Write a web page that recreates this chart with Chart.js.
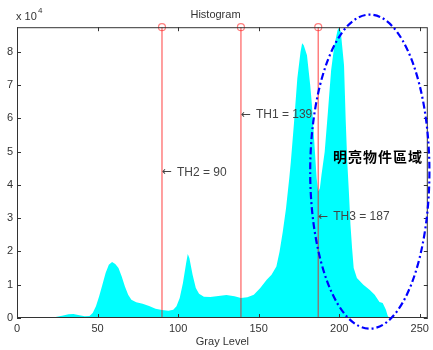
<!DOCTYPE html>
<html>
<head>
<meta charset="utf-8">
<title>Histogram</title>
<script src="https://cdn.jsdelivr.net/npm/chart.js@4.4.1/dist/chart.umd.min.js"></script>
<style>
  html, body { margin: 0; padding: 0; background: #fff; }
  #wrap { width: 433px; height: 350px; }
</style>
</head>
<body>
<div id="wrap"><canvas id="histChart"></canvas></div>
<script>
// gray level (x) and pixel count (y)
const grayLevels = [0, 18, 20, 24, 28, 32, 35, 38, 42, 45, 47, 49, 51, 53, 55, 57, 59, 61, 63, 65, 67, 69, 71, 74, 78, 82, 86, 90, 94, 97, 99,
  101, 103, 105, 106, 107, 109, 111, 113, 116, 120, 125, 130, 135, 139, 143, 147, 151, 155, 158, 161, 163, 165, 167, 169, 170,
  172, 174, 176, 177, 178, 180, 182, 183, 185, 186, 187, 188, 189, 191, 193, 195, 197, 199, 200, 201, 203, 204, 205, 206, 207,
  208, 209, 211, 215, 219, 222, 225, 227, 229, 230, 231, 255];
const pixelCounts = [0, 0, 100, 300, 700, 1100, 1200, 900, 500, 600, 1500, 3500, 6500, 10000, 13500, 16000, 16800, 16200, 15000, 12500, 9500, 7000, 5500, 4700, 4300, 3600, 2800, 2400, 2200, 2500, 3500,
  6000, 10500, 16500, 19200, 18000, 13000, 9000, 7300, 6400, 6300, 6600, 6900, 6500, 6000, 6200, 7000, 9000, 11500, 13000, 15500, 20000, 26000, 33000, 42000, 47000,
  59000, 72000, 80000, 82600, 82000, 79000, 70000, 64500, 49500, 42000, 38000, 39000, 43000, 50000, 62000, 74500, 82000, 86500, 87400, 86000, 76000, 60000, 47000, 38000, 28000,
  21000, 15000, 12000, 10000, 8400, 7000, 4800, 4500, 2500, 800, 0, 0];

// thresholds
const thValues = [90, 139, 187];
const thLabels = ['TH2 = 90', 'TH1 = 139', 'TH3 = 187'];
const thLabelY = [43800, 61000, 30400];

const xTickValues = [0, 50, 100, 150, 200, 250];
const yTickValues = [0, 10000, 20000, 30000, 40000, 50000, 60000, 70000, 80000];
const yMax = 87400;

// ellipse around the bright region (data units)
const ellipseCenter = [219, 44000];
const ellipseRadius = [37, 47200];
const regionLabel = '明亮物件區域';

Chart.defaults.font.family = "'Liberation Sans', Arial, sans-serif";
Chart.defaults.font.size = 11;
Chart.defaults.color = '#333';

const histData = grayLevels.map((g, i) => ({ x: g, y: pixelCounts[i] }));
const stemSets = thValues.map(t => ({
  type: 'line',
  data: [{ x: t, y: 0 }, { x: t, y: yMax }],
  borderColor: 'rgba(255,0,0,0.5)',
  borderWidth: 1.5,
  pointRadius: [0, 3.5],
  pointBorderColor: 'rgba(255,40,40,0.6)',
  pointBorderWidth: 1.2,
  pointBackgroundColor: 'rgba(0,0,0,0)',
  fill: false,
  clip: false,
  order: 1,
}));

// box, inward ticks, labels and the ellipse
const overlay = {
  id: 'overlay',
  afterDatasetsDraw(chart) {
    const { ctx, chartArea: a, scales: { x, y } } = chart;
    ctx.save();
    ctx.strokeStyle = '#333';
    ctx.lineWidth = 1;
    ctx.strokeRect(a.left + 0.5, a.top + 0.5, a.right - a.left - 1, a.bottom - a.top - 1);
    ctx.beginPath();
    xTickValues.forEach(v => {
      const px = Math.round(x.getPixelForValue(v)) + 0.5;
      ctx.moveTo(px, a.bottom); ctx.lineTo(px, a.bottom - 4);
      ctx.moveTo(px, a.top); ctx.lineTo(px, a.top + 4);
    });
    yTickValues.forEach(v => {
      const py = Math.round(y.getPixelForValue(v)) + 0.5;
      ctx.moveTo(a.left, py); ctx.lineTo(a.left + 4, py);
      ctx.moveTo(a.right, py); ctx.lineTo(a.right - 4, py);
    });
    ctx.stroke();
    ctx.restore();
  },
  afterDraw(chart) {
    const { ctx, scales: { x, y } } = chart;
    ctx.save();
    // x 10^4
    ctx.fillStyle = '#333';
    ctx.textBaseline = 'alphabetic';
    ctx.font = "11px 'Liberation Sans', Arial, sans-serif";
    ctx.fillText('x 10', 16, 20);
    ctx.font = "8px 'Liberation Sans', Arial, sans-serif";
    ctx.fillText('4', 38, 13);

    // threshold labels
    ctx.fillStyle = '#444';
    ctx.textBaseline = 'middle';
    thValues.forEach((t, i) => {
      const px = x.getPixelForValue(t);
      const py = y.getPixelForValue(thLabelY[i]);
      ctx.font = "12px 'DejaVu Sans', sans-serif";
      ctx.fillText('\u2190', px, py);
      ctx.font = "12px 'Liberation Sans', Arial, sans-serif";
      ctx.fillText(thLabels[i], px + 15, py);
    });

    // ellipse
    const cx = x.getPixelForValue(ellipseCenter[0]);
    const cy = y.getPixelForValue(ellipseCenter[1]);
    const rx = x.getPixelForValue(ellipseCenter[0] + ellipseRadius[0]) - cx;
    const ry = cy - y.getPixelForValue(ellipseCenter[1] + ellipseRadius[1]);
    ctx.strokeStyle = '#0000ff';
    ctx.lineWidth = 2.2;
    ctx.setLineDash([7, 3, 2, 3]);
    ctx.beginPath();
    ctx.ellipse(cx, cy, rx, ry, 0, 0, Math.PI * 2);
    ctx.stroke();
    ctx.setLineDash([]);

    // region label
    ctx.fillStyle = '#000';
    ctx.font = "bold 14px 'Noto Sans CJK TC', sans-serif";
    ctx.letterSpacing = '1px';
    ctx.textBaseline = 'middle';
    ctx.fillText(regionLabel, 333, 157);
    ctx.restore();
  }
};

const chart = new Chart(document.getElementById('histChart'), {
  type: 'line',
  data: {
    datasets: [
      {
        data: histData,
        borderWidth: 0,
        borderColor: '#00ffff',
        backgroundColor: '#00ffff',
        pointRadius: 0,
        fill: 'origin',
        tension: 0,
        order: 3,
      },
      ...stemSets,
    ],
  },
  options: {
    responsive: true,
    maintainAspectRatio: false,
    animation: false,
    layout: { padding: { left: 0, right: 2, top: 0, bottom: 0 } },
    plugins: {
      legend: { display: false },
      tooltip: { enabled: false },
      title: {
        display: true,
        text: 'Histogram',
        font: { size: 11, weight: 'normal' },
        color: '#333',
        padding: { top: 8, bottom: 6 },
      },
    },
    scales: {
      x: {
        type: 'linear',
        min: 0,
        max: 255,
        grid: { display: false, drawTicks: false },
        border: { display: false },
        ticks: { padding: 4, maxRotation: 0, color: '#333' },
        afterBuildTicks(s) { s.ticks = xTickValues.map(v => ({ value: v })); },
        title: { display: true, text: 'Gray Level', color: '#333', font: { size: 11 }, padding: { top: 0, bottom: 1 } },
        afterFit(s) { s.height = 32; s.paddingLeft = 0; s.paddingRight = 0; },
      },
      y: {
        min: 0,
        max: yMax,
        grid: { display: false, drawTicks: false },
        border: { display: false },
        ticks: { padding: 4, color: '#333', callback: v => String(v / 10000) },
        afterBuildTicks(s) { s.ticks = yTickValues.map(v => ({ value: v })); },
        afterFit(s) { s.width = 17; },
      },
    },
  },
  plugins: [overlay],
});
</script>
</body>
</html>
